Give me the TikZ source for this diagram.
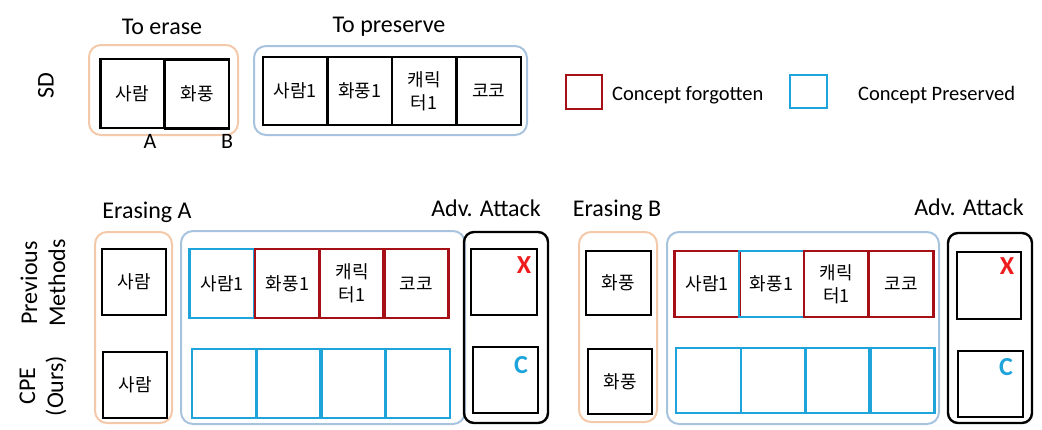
\documentclass[tikz,border=0pt]{standalone}
\usepackage{fontspec}
\setmainfont{Carlito}
\newfontfamily\kofont{Noto Sans CJK KR}
\usetikzlibrary{positioning}
\usepackage{xcolor}
\definecolor{cpPeach}{HTML}{F4C9A9}
\definecolor{cpSteel}{HTML}{A7C3DE}
\definecolor{cpForgot}{HTML}{A50F15}
\definecolor{cpKeep}{HTML}{1EA4DA}
\definecolor{cpCross}{HTML}{EE1C1C}

\begin{document}
\begin{tikzpicture}[x=1pt,y=-1pt,
      ttl/.style={font=\fontsize{24}{28}\selectfont,align=center,inner sep=0pt},
      lgd/.style={font=\fontsize{20.5}{24}\selectfont,anchor=west,inner sep=0pt},
      grpErase/.style={draw=cpPeach,line width=2pt,rounded corners=12pt},
      grpKeep/.style={draw=cpSteel,line width=2pt,rounded corners=12pt},
      grpAttack/.style={draw=black,line width=2.4pt,rounded corners=10pt},
      imgbox/.style={draw=black,line width=2.8pt,inner sep=0pt,
                  minimum width=64,minimum height=66,
                  font=\kofont\fontsize{18}{23}\selectfont,align=center},
      forgot/.style={imgbox,draw=cpForgot,line width=2.2pt,minimum width=65,minimum height=68},
      kept/.style={imgbox,draw=cpKeep,line width=2.2pt,minimum width=65,minimum height=68},
      verdict/.style={font=\fontsize{26}{30}\selectfont\bfseries,inner sep=0pt}]
    \useasboundingbox (0,0) rectangle (1042,429);
    % SD row
    \node[ttl] (terase) at (162,27) {To erase};
    \node[ttl] (tkeep) at (389,27) {To preserve};
    \node[ttl,rotate=90] (sd) at (46,86) {SD};
    \node[grpErase,minimum width=149,minimum height=90] (sdErase) at (163.5,90) {};
    \node[imgbox,minimum height=69] (sdA) at (132.5,93.5) {사람};
    \node[imgbox,minimum height=69] (sdB) at (197,94) {화풍};
    \node[font=\fontsize{22}{26}\selectfont,inner sep=0pt] (lA) at (150,141) {A};
    \node[font=\fontsize{22}{26}\selectfont,inner sep=0pt] (lB) at (227,141) {B};
    \node[grpKeep,minimum width=273,minimum height=89] (sdKeep) at (390.5,90.5) {};
    \node[imgbox,minimum width=64.5,minimum height=68] (sd1) at (295.25,91) {사람1};
    \node[imgbox,minimum width=64.5,minimum height=68] (sd2) at (359.75,91) {화풍1};
    \node[imgbox,minimum width=64.5,minimum height=68] (sd3) at (424.25,91) {캐릭\\터1};
    \node[imgbox,minimum width=64.5,minimum height=68] (sd4) at (488.75,91) {코코};
    % legend
    \node[forgot,minimum width=36,minimum height=34] (lgForgot) at (584,92) {};
    \node[lgd] (lgForgotTxt) at (612,95) {Concept forgotten};
    \node[kept,minimum width=37,minimum height=33] (lgKeep) at (808.5,91.5) {};
    \node[lgd] (lgKeepTxt) at (858,95) {Concept Preserved};
    % row labels
    \node[ttl,rotate=90] (prev) at (43,283) {Previous\\Methods};
    \node[ttl,rotate=90] (ours) at (43,386) {CPE\\(Ours)};
    % erasing A
    \node[ttl] (eraseA) at (147,212) {Erasing A};
    \node[grpErase,minimum width=77,minimum height=191] (grpA) at (133.5,327.5) {};
    \node[imgbox] (aPrev) at (134,282) {사람};
    \node[imgbox] (aOurs) at (135,385) {사람};
    \node[grpKeep,minimum width=284,minimum height=193] (keepA) at (323,327.5) {};
    \node[kept,minimum height=69] (aP1) at (222,283.5) {사람1};
    \node[forgot,minimum height=69] (aP2) at (287.5,283.5) {화풍1};
    \node[forgot,minimum height=69] (aP3) at (352,283.5) {캐릭\\터1};
    \node[forgot,minimum height=69] (aP4) at (416,283.5) {코코};
    \node[kept,minimum height=69] (aO1) at (224.5,383.5) {};
    \node[kept,minimum height=69] (aO2) at (289,383.5) {};
    \node[kept,minimum height=69] (aO3) at (353,383.5) {};
    \node[kept,minimum height=69] (aO4) at (417.5,383.5) {};
    \node[ttl] (advA) at (486,208) {Adv. Attack};
    \node[grpAttack,minimum width=84,minimum height=191] (atkA) at (506,327.5) {};
    \node[imgbox,minimum width=66] (atkAPrev) at (504,282) {};
    \node[imgbox,minimum width=65] (atkAOurs) at (505.5,380) {};
    \node[verdict,cpCross] (xA) at (524,265) {X};
    \node[verdict,cpKeep] (cA) at (521,365) {C};
    % erasing B
    \node[ttl] (eraseB) at (617,210) {Erasing B};
    \node[grpErase,minimum width=78,minimum height=190] (grpB) at (618,327) {};
    \node[imgbox,minimum width=65,minimum height=64] (bPrev) at (618.5,283) {화풍};
    \node[imgbox,minimum height=65] (bOurs) at (620,381.5) {화풍};
    \node[grpKeep,minimum width=272,minimum height=192] (keepB) at (803,328) {};
    \node[forgot,minimum height=66] (bP1) at (707,284) {사람1};
    \node[kept,minimum height=66] (bP2) at (771.5,284) {화풍1};
    \node[forgot,minimum height=66] (bP3) at (836.5,284) {캐릭\\터1};
    \node[forgot,minimum height=66] (bP4) at (901,284) {코코};
    \node[kept,minimum height=65] (bO1) at (708.5,380.5) {};
    \node[kept,minimum height=65] (bO2) at (773.5,380.5) {};
    \node[kept,minimum height=65] (bO3) at (838,380.5) {};
    \node[kept,minimum height=65] (bO4) at (902,380.5) {};
    \node[ttl] (advB) at (969,207) {Adv. Attack};
    \node[grpAttack,minimum width=84,minimum height=190] (atkB) at (990,328) {};
    \node[imgbox,minimum height=67] (atkBPrev) at (989,285.5) {};
    \node[imgbox,minimum width=65] (atkBOurs) at (990.5,384) {};
    \node[verdict,cpCross] (xB) at (1007,266) {X};
    \node[verdict,cpKeep] (cB) at (1006,367) {C};
  \end{tikzpicture}
\end{document}
